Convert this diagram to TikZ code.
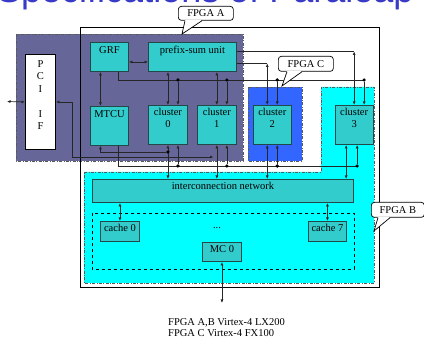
\documentclass[tikz,border=0pt]{standalone}
\usepackage{fontspec}
\setmainfont{Liberation Serif}
\newfontfamily\titlefont{Liberation Sans}
\usetikzlibrary{arrows.meta,positioning,calc}
\definecolor{fpgaA}{HTML}{666699}
\definecolor{fpgaB}{HTML}{00FFFF}
\definecolor{fpgaC}{HTML}{3366FF}
\definecolor{unit}{HTML}{33CCCC}
\definecolor{edge}{HTML}{234848}
\definecolor{headline}{HTML}{3A3AC8}

\begin{document}
\begin{tikzpicture}[x=1pt,y=-1pt,font=\fontsize{10.5}{12}\selectfont,>={Latex[length=3.5pt,width=3pt]}]
\tikzset{unitbox/.style={draw=edge,fill=unit,line width=0.9pt,anchor=north west,inner sep=0pt}, txt/.style={anchor=north,inner sep=3.5pt,align=center}, region/.style={line width=0.8pt,draw=black!65,dash pattern=on 3pt off 1.5pt on 0.8pt off 1.5pt}, wire/.style={draw=black!85,line width=0.7pt}, dbl/.style={wire,<->}, arr/.style={wire,->}, dot/.style={circle,fill=black,inner sep=0pt,minimum size=3.6pt}, callout/.style={draw,fill=white,rounded corners=3pt,line width=0.7pt,anchor=north west,inner sep=0pt}}
\useasboundingbox (0,0) rectangle (424,339);
\node[anchor=base west,inner sep=0pt,text=headline,font=\titlefont\fontsize{36}{40}\selectfont] (title) at (-3,2.5) {Specifications of Paraleap};
% board and the three FPGAs
\fill[white] (80,27) rectangle (379,287);
\filldraw[region,fill=fpgaA] (16,34) rectangle (243,161);
\filldraw[region,fill=fpgaC] (248,87) rectangle (302,161);
\filldraw[region,fill=fpgaB] (84,172) -- (321,172) -- (321,87) -- (374,87) -- (374,283) -- (84,283) -- cycle;
\draw[line width=0.9pt] (80,27) rectangle (379,287);
\draw[dashed,line width=0.8pt] (92,213) rectangle (354,269);
% units
\node[unitbox,draw=black,fill=white,minimum width=30pt,minimum height=95pt,label={[txt,inner sep=6pt,font=\fontsize{10.5}{12.5}\selectfont]north:P\\C\\I\\[12.5pt]I\\F}] (pci) at (25,54) {};
\node[unitbox,minimum width=38pt,minimum height=29pt,label={[txt,inner sep=4pt]north:GRF}] (grf) at (90,42) {};
\node[unitbox,minimum width=88pt,minimum height=29pt,label={[txt]north:prefix-sum unit}] (psu) at (148,42) {};
\node[unitbox,minimum width=38pt,minimum height=39pt,below=34pt of grf,label={[txt,inner sep=4pt]north:MTCU}] (mtcu) {};
\node[unitbox,minimum width=39pt,minimum height=39pt,label={[txt]north:cluster\\0}] (cl0) at (148,105) {};
\node[unitbox,minimum width=39pt,minimum height=39pt,right=9pt of cl0,label={[txt]north:cluster\\1}] (cl1) {};
\node[unitbox,minimum width=38pt,minimum height=39pt,right=16pt of cl1,label={[txt]north:cluster\\2}] (cl2) {};
\node[unitbox,minimum width=38pt,minimum height=39pt,right=43pt of cl2,label={[txt]north:cluster\\3}] (cl3) {};
\node[unitbox,minimum width=261pt,minimum height=23pt,label={[txt,inner sep=3pt]north:interconnection network}] (net) at (92,179) {};
\node[unitbox,minimum width=39pt,minimum height=20pt,label={[txt]north:cache 0}] (cache0) at (100,221) {};
\node[unitbox,minimum width=38pt,minimum height=20pt,label={[txt]north:cache 7}] (cache7) at (308,221) {};
\node[unitbox,minimum width=39pt,minimum height=19pt,label={[txt,inner sep=3pt]north:MC 0}] (mc0) at (202,242) {};
\node (ell) at (217,228) {...};
% host side
\coordinate (host) at (7,101.5);
\coordinate (pcij) at (213.5,157);
\draw[dbl] (host) -- (pci.west); \draw[dbl] (pci.east) -- ++(16,0) |- (pcij);
\draw[dbl] ([yshift=-5pt]grf.east) -- ([yshift=-5pt]psu.west);
\draw[dbl] ([xshift=-9pt]grf.south) -- ([xshift=-9pt]mtcu.north);
% buses above the clusters
\coordinate (busT) at (0,80);
\foreach \c/\s in {cl0/10,cl1/10,cl2/5,cl3/10} \coordinate (tp\c) at ([xshift=\s pt]\c.north);
\draw[wire] ([xshift=9pt]grf.south) |- (tpcl3 |- busT);
\foreach \c in {cl0,cl1,cl2,cl3} {\node[dot] (t\c) at (tp\c |- busT) {}; \draw[arr] (t\c) -- (tp\c);}
\draw[dbl] (psu.south -| cl0.north) -- (cl0.north); \draw[dbl] (psu.south -| cl1.north) -- (cl1.north);
\coordinate (p2) at ([yshift=-6.5pt]psu.east); \coordinate (p3) at ([yshift=5.5pt]psu.east); \coordinate (c2in) at ([xshift=-5pt]cl2.north);
\draw[wire] (p2) -- (p2 -| c2in); \draw[dbl] (p2 -| c2in) -- (c2in);
\draw[wire] (p3) -- (p3 -| cl3.north); \draw[dbl] (p3 -| cl3.north) -- (cl3.north);
% buses below the clusters
\coordinate (busB) at (0,166); \coordinate (busM) at (0,152);
\foreach \c/\s in {cl0/10,cl1/10,cl2/5,cl3/3} \coordinate (bp\c) at ([xshift=\s pt]\c.south);
\draw[wire] ([xshift=9pt]mtcu.south) |- (bpcl3 |- busB);
\foreach \c in {cl0,cl1,cl2,cl3} {\node[dot] (b\c) at (bp\c |- busB) {}; \draw[arr] (b\c) -- (bp\c);}
\coordinate (n2) at ([xshift=-5pt]cl2.south); \coordinate (n3) at ([xshift=-8pt]cl3.south);
\draw[dbl] (cl0.south) -- (cl0.south |- net.north); \draw[dbl] (cl1.south) -- (cl1.south |- net.north);
\draw[dbl] (n2) -- (n2 |- net.north); \draw[dbl] (n3) -- (n3 |- net.north);
\node[dot] (mj) at (cl0.south |- busM) {};
\draw[arr] (mj) -| ([xshift=-9pt]mtcu.south);
% memory side
\coordinate (mem) at (222,303);
\draw[dbl] (net.south -| cache0.north) -- (cache0.north); \draw[dbl] (net.south -| cache7.north) -- (cache7.north);
\draw[dbl] (mc0.south) -- (mc0.south |- mem);
% callouts
\node[callout,minimum width=55pt,minimum height=14pt] (ca) at (178,6) {FPGA A};
\node[callout,minimum width=55pt,minimum height=15pt] (cc) at (278,56) {FPGA C};
\node[callout,minimum width=53pt,minimum height=15pt] (cb) at (371,202) {FPGA B};
\coordinate (ca tip) at (182,34); \coordinate (cc tip) at (282,86); \coordinate (cb tip) at (374,231);
\fill[white] ([xshift=7pt,yshift=0.8pt]ca.south west) -- (ca tip) -- ([xshift=24pt,yshift=0.8pt]ca.south west) -- cycle;
\draw[line width=0.7pt] ([xshift=7pt]ca.south west) -- (ca tip) -- ([xshift=24pt]ca.south west);
\fill[white] ([xshift=9pt,yshift=0.8pt]cc.south west) -- (cc tip) -- ([xshift=24pt,yshift=0.8pt]cc.south west) -- cycle;
\draw[line width=0.7pt] ([xshift=9pt]cc.south west) -- (cc tip) -- ([xshift=24pt]cc.south west);
\fill[white] ([xshift=7pt,yshift=0.8pt]cb.south west) -- (cb tip) -- ([xshift=19pt,yshift=0.8pt]cb.south west) -- cycle;
\draw[line width=0.7pt] ([xshift=7pt]cb.south west) -- (cb tip) -- ([xshift=19pt]cb.south west);
\node[anchor=north west,align=left,inner sep=0pt,font=\fontsize{10.5}{11}\selectfont] (note) at (168,318) {FPGA A,B Virtex-4 LX200\\FPGA C Virtex-4 FX100};
\end{tikzpicture}
\end{document}
